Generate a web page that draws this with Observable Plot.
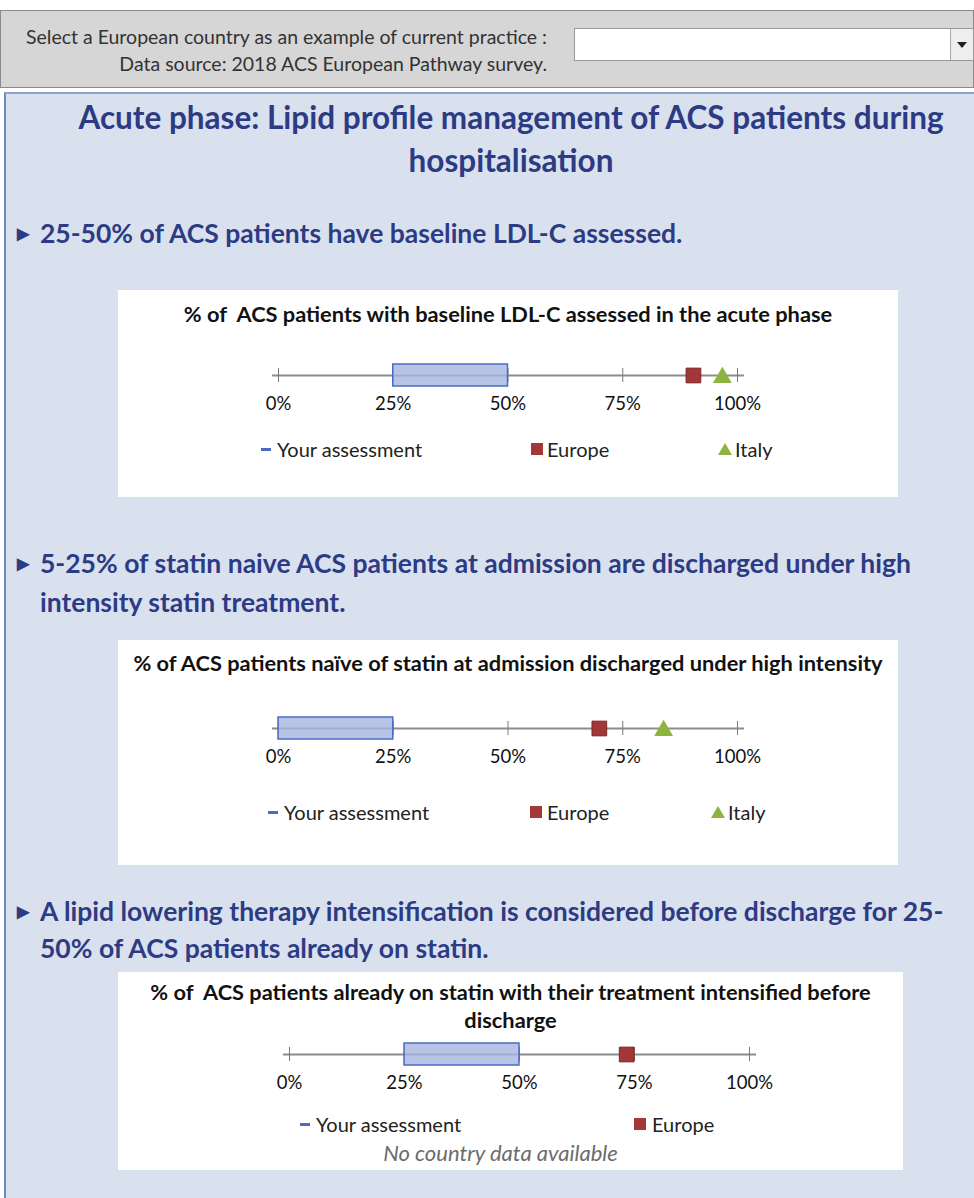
<!DOCTYPE html>
<html>
<head>
<meta charset="utf-8">
<script src="https://cdn.jsdelivr.net/npm/d3@7"></script>
<script src="https://cdn.jsdelivr.net/npm/@observablehq/plot@0.6"></script>
<style>
  html, body { margin: 0; padding: 0; background: #fff; font-family: Lato, "Open Sans", sans-serif; }
  #page { position: relative; width: 974px; height: 1198px; overflow: hidden; }
  .abs { position: absolute; }
  #topPanel { left: 0; top: 10px; width: 972px; height: 76px; background: #d6d6d6; border: 1px solid #8a8a8a; }
  .hdr { position: absolute; right: 426px; font-size: 19.5px; line-height: 24px; color: #333; white-space: nowrap; }
  #dropdown { left: 574px; top: 28px; width: 398px; height: 31px; background: #fff; border: 1px solid #999; }
  #arrow { right: 0; top: 0; width: 22px; height: 31px; background: #eee; border-left: 1px solid #aaa; }
  #arrow:after { content: ""; position: absolute; left: 6px; top: 13px; border-left: 5px solid transparent; border-right: 5px solid transparent; border-top: 6px solid #222; }
  #main { left: 4px; top: 92px; width: 970px; height: 1110px; background: #dae1ee; border-left: 2px solid #6f89c2; border-top: 2px solid #8fa3cf; }
  .navy { color: #2c3b84; font-weight: 700; }
  .title { font-size: 31.5px; text-align: center; line-height: 43px; white-space: nowrap; }
  .bullet { font-size: 26.5px; line-height: 38px; white-space: nowrap; }
  .bullet .arr { position: absolute; left: -23px; top: 0; font-size: 16px; }
  .box { background: #fff; }
  .ctitle { position: absolute; left: 0; width: 100%; text-align: center; font-weight: 700; font-size: 21.8px; color: #111; line-height: 28px; white-space: pre; }
  .leg { position: absolute; font-size: 20px; color: #222; white-space: nowrap; line-height: 22px; }
  .sw { position: absolute; }
  .note { position: absolute; left: -10px; width: 100%; text-align: center; font-style: italic; font-size: 22px; line-height: 22px; color: #6b6b6b; }
</style>
</head>
<body>
<div id="page"></div>
<script>
// ---------- data ----------
const tickValues = [0, 25, 50, 75, 100];
const headerLines = ["Select a European country as an example of current practice :", "Data source: 2018 ACS European Pathway survey."];
const mainTitle = ["Acute phase: Lipid profile management of ACS patients during", "hospitalisation"];
const bulletLines = [
  ["25-50% of ACS patients have baseline LDL-C assessed."],
  ["5-25% of statin naive ACS patients at admission are discharged under high", "intensity statin treatment."],
  ["A lipid lowering therapy intensification is considered before discharge for 25-", "50% of ACS patients already on statin."]
];
const chartTitles = [
  ["% of  ACS patients with baseline LDL-C assessed in the acute phase"],
  ["% of ACS patients naïve of statin at admission discharged under high intensity"],
  ["% of  ACS patients already on statin with their treatment intensified before", "discharge"]
];
const assessLow = [25, 0, 25];
const assessHigh = [50, 25, 50];
const europeValues = [90.4, 69.9, 73.3];
const italyValues = [96.7, 83.9, null];
const seriesNames = ["Your assessment", "Europe", "Italy"];
const noCountryNote = "No country data available";

// ---------- colors ----------
const cAssessFill = "#a5b5df", cAssessStroke = "#4b6cc3";
const cEurope = "#a33636", cItaly = "#8db43e";

// ---------- layout (per chart box) ----------
const boxes = [
  {left: 118, top: 290, width: 780, height: 207, titleTop: 10, svgTop: 64, ml: 160, mr: 161,
   legend: [{x: 261, tx: 277}, {x: 531, tx: 547}, {x: 718, tx: 735}], legY: 159},
  {left: 118, top: 640, width: 780, height: 225, titleTop: 9, svgTop: 67, ml: 160, mr: 161,
   legend: [{x: 268, tx: 284}, {x: 530, tx: 547}, {x: 711, tx: 728}], legY: 172},
  {left: 118, top: 972, width: 785, height: 198, titleTop: 6, svgTop: 61, ml: 171, mr: 154,
   legend: [{x: 300, tx: 316}, {x: 634, tx: 652}], legY: 152, noteY: 181}
];
const bulletTops = [[214], [544, 583], [892, 929]];

const page = document.getElementById("page");
function el(tag, cls, style, html) {
  const e = document.createElement(tag);
  if (cls) e.className = cls;
  if (style) Object.assign(e.style, style);
  if (html != null) e.textContent = html;
  return e;
}

// header
const topPanel = el("div", "abs", {}, null); topPanel.id = "topPanel";
headerLines.forEach((t, i) => topPanel.appendChild(el("div", "hdr", {top: (i === 0 ? 14 : 41) + "px"}, t)));
page.appendChild(topPanel);
const dd = el("div", "abs"); dd.id = "dropdown";
const arrowBtn = el("div", "abs"); arrowBtn.id = "arrow"; dd.appendChild(arrowBtn);
page.appendChild(dd);

// main panel
const mainPanel = el("div", "abs"); mainPanel.id = "main"; page.appendChild(mainPanel);
mainTitle.forEach((t, i) => page.appendChild(el("div", "abs navy title", {left: "46px", width: "930px", top: (96 + i * 43) + "px"}, t)));

bulletLines.forEach((lines, b) => {
  lines.forEach((t, i) => {
    const d = el("div", "abs navy bullet", {left: "40px", top: bulletTops[b][i] + "px"}, t);
    if (i === 0) d.appendChild(el("span", "arr", {}, "\u25B6"));
    page.appendChild(d);
  });
});

// charts
boxes.forEach((B, k) => {
  const box = el("div", "abs box", {left: B.left + "px", top: B.top + "px", width: B.width + "px", height: B.height + "px"});
  chartTitles[k].forEach((t, i) => box.appendChild(el("div", "ctitle", {top: (B.titleTop + i * 28) + "px"}, t)));

  const assess = [{lo: assessLow[k], hi: assessHigh[k]}];
  const marks = [
    Plot.ruleY([0], {stroke: "#8c8c8c", strokeWidth: 2, insetLeft: -6, insetRight: -7}),
    Plot.tickX(tickValues, {x: d => d, stroke: "#7a7a7a", strokeWidth: 1, insetTop: 4, insetBottom: 4}),
    Plot.barX(assess, {x1: "lo", x2: "hi", fill: cAssessFill, fillOpacity: 0.8, stroke: cAssessStroke, strokeWidth: 1.5}),
    Plot.dot([europeValues[k]], {x: d => d, symbol: "square", r: 8.3, fill: cEurope, stroke: "#7d2626", strokeWidth: 1})
  ];
  if (italyValues[k] != null) {
    marks.push(Plot.dot([italyValues[k]], {x: d => d, symbol: "triangle", r: 6, dy: 2, fill: cItaly, stroke: cItaly}));
  }
  marks.push(Plot.axisX({ticks: tickValues, tickSize: 0, tickPadding: 10, tickFormat: d => d + "%", fontSize: 18.5, fill: "#111"}));

  const chart = Plot.plot({
    width: B.width, height: 64,
    marginLeft: B.ml, marginRight: B.mr, marginTop: 10, marginBottom: 32,
    x: {domain: [0, 100]},
    y: {domain: [-1, 1], axis: null},
    style: {background: "transparent", fontFamily: "Lato, 'Open Sans', sans-serif", fontSize: "18.5px", color: "#111", overflow: "visible"},
    marks
  });
  chart.style.position = "absolute";
  chart.style.left = "0px";
  chart.style.top = B.svgTop + "px";
  box.appendChild(chart);

  // legend
  B.legend.forEach((L, i) => {
    const sw = el("div", "sw");
    if (i === 0) Object.assign(sw.style, {left: (L.x - B.left) + "px", top: (B.legY - 1) + "px", width: "10px", height: "3px", background: cAssessStroke});
    else if (i === 1) Object.assign(sw.style, {left: (L.x - B.left) + "px", top: (B.legY - 6) + "px", width: "12px", height: "12px", background: cEurope});
    else Object.assign(sw.style, {left: (L.x - B.left) + "px", top: (B.legY - 6) + "px", width: 0, height: 0, borderLeft: "7px solid transparent", borderRight: "7px solid transparent", borderBottom: "12px solid " + cItaly});
    box.appendChild(sw);
    box.appendChild(el("div", "leg", {left: (L.tx - B.left) + "px", top: (B.legY - 11) + "px"}, seriesNames[i]));
  });
  if (B.noteY != null) box.appendChild(el("div", "note", {top: (B.noteY - 11) + "px"}, noCountryNote));
  page.appendChild(box);
});
</script>
</body>
</html>
